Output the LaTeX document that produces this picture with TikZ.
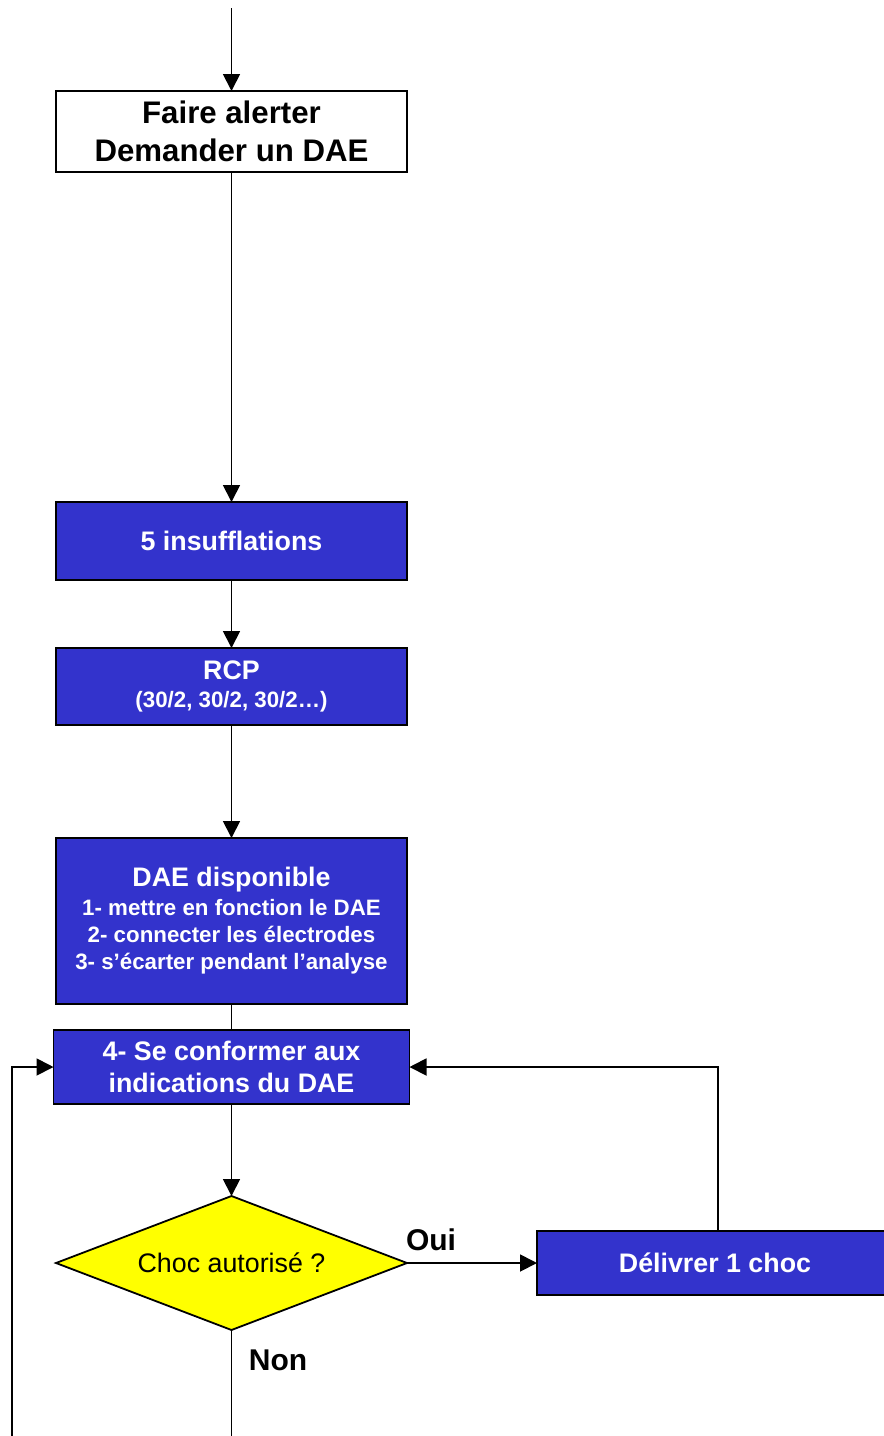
\documentclass[tikz,border=0pt]{standalone}
\usepackage{fontspec}
\setmainfont{Liberation Sans}
\usepackage{xcolor}
\usepackage{tikz}
\usetikzlibrary{arrows.meta,positioning,shapes.geometric}
\definecolor{daeblue}{RGB}{51,51,204}
\definecolor{chocyellow}{RGB}{255,255,0}
\newcommand{\bigtxt}{\fontsize{15.6}{19}\selectfont\bfseries}
\newcommand{\midtxt}{\fontsize{13.4}{16}\selectfont}
\newcommand{\smalltxt}{\fontsize{11.15}{13.5}\selectfont\bfseries}

\begin{document}
\begin{tikzpicture}[x=0.5pt,y=-0.5pt,line width=0.9pt,
  >={Triangle[length=8.5pt,width=8.5pt]},
  plain/.style={draw,fill=white,minimum width=175.5pt,align=center,
                inner sep=0pt,outer sep=0pt,font=\bigtxt},
  action/.style={draw,fill=daeblue,text=white,minimum width=175.5pt,
                 align=center,inner sep=0pt,outer sep=0pt,font=\midtxt\bfseries},
  question/.style={draw,diamond,shape aspect=2.62,fill=chocyellow,
                   minimum width=175.5pt,minimum height=67pt,inner sep=0pt,
                   outer sep=0pt,font=\midtxt},
  answer/.style={font=\fontsize{15}{18}\selectfont\bfseries}]
\clip (0,0) rectangle (884,1436);
\coordinate (depart) at (231.5,8);
\node[plain,minimum height=40.5pt] (alerte) at (231.5,131.5)
  {Faire alerter\\Demander un DAE};
\node[action,minimum height=39pt,below=165pt of alerte] (insuf)
  {5 insufflations};
\node[action,minimum height=38.5pt,below=34pt of insuf] (rcp)
  {RCP\\[-2pt]\smalltxt (30/2, 30/2, 30/2\ldots)};
\node[action,minimum height=83pt,below=56.5pt of rcp] (dae)
  {DAE disponible\\[-1.5pt]\smalltxt 1- mettre en fonction le DAE\\[-2.5pt]
   \smalltxt 2- connecter les électrodes\\[-2.5pt]
   \smalltxt 3- s’écarter pendant l’analyse};
\node[action,minimum width=178pt,minimum height=37pt,below=13pt of dae] (conf)
  {4- Se conformer aux\\indications du DAE};
\node[question,below=46pt of conf] (choc) {Choc autorisé ?};
\node[action,minimum width=178pt,minimum height=32pt,right=65pt of choc] (delivrer)
  {Délivrer 1 choc};
\coordinate (finnon) at (233,1436);
\coordinate (retour) at (12,1436);

% connecteurs
\draw[->] (depart) -- (alerte);
\draw[->] (alerte) -- (insuf);
\draw[->] (insuf) -- (rcp);
\draw[->] (rcp) -- (dae);
\draw (dae) -- (conf);
\draw[->] (conf) -- (choc);
\draw[->] (choc) -- (delivrer);
\draw[->] ([xshift=1.5pt]delivrer.north) |- (conf.east);
\draw (choc.south) -- (choc.south |- finnon);
\draw[->] (retour) |- (conf.west);
\node[answer] (oui) at (431,1240) {Oui};
\node[answer] (non) at (278,1360) {Non};
\end{tikzpicture}
\end{document}
